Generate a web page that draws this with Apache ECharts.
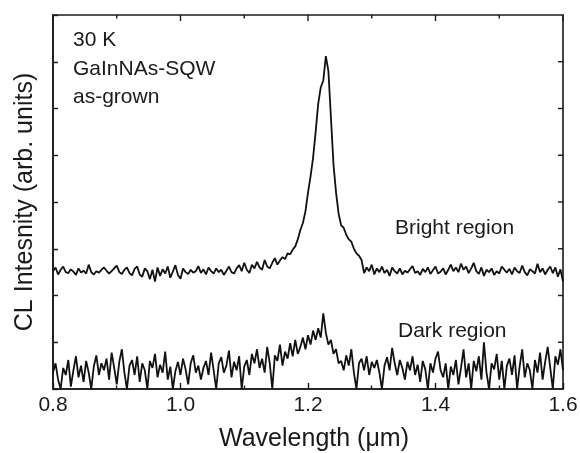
<!DOCTYPE html>
<html>
<head>
<meta charset="utf-8">
<script src="https://cdn.jsdelivr.net/npm/echarts@6/dist/echarts.min.js"></script>
<style>
html,body{margin:0;padding:0;background:#fff;}
#chart{width:580px;height:453px;}
</style>
</head>
<body>
<div id="chart"></div>
<script>
// Sampling grid for wavelength (um)
const wavelengthStart = 0.8;
const wavelengthStep = 0.004;
const xTicks = [0.8, 1.0, 1.2, 1.4, 1.6];
// Mirror ticks on the top frame: [wavelength, isMajor]
const topTicks = [[0.8, 1], [0.9, 0], [1.0, 1], [1.1, 0], [1.2, 1], [1.3, 0], [1.4, 1], [1.5, 0], [1.6, 1]];
// Mirror ticks on the right frame (intensity values)
const rightTicks = [1, 2, 3, 4, 5, 6, 7];

// Bright region CL spectrum (arb. units), one value per wavelength sample
const brightRegion = [
  2.52, 2.60, 2.45, 2.55, 2.62, 2.50, 2.48, 2.56, 2.51, 2.44,
  2.58, 2.49, 2.53, 2.47, 2.66, 2.50, 2.45, 2.52, 2.49, 2.55,
  2.60, 2.53, 2.47, 2.52, 2.58, 2.64, 2.50, 2.46, 2.55, 2.60,
  2.48, 2.43, 2.57, 2.62, 2.45, 2.40, 2.58, 2.52, 2.35, 2.55,
  2.30, 2.60, 2.42, 2.56, 2.47, 2.62, 2.38, 2.51, 2.65, 2.44,
  2.36, 2.58, 2.50, 2.46, 2.55, 2.49, 2.52, 2.63, 2.48, 2.56,
  2.45, 2.60, 2.52, 2.47, 2.58, 2.50, 2.55, 2.44, 2.53, 2.62,
  2.50, 2.47, 2.58, 2.65, 2.52, 2.70, 2.55, 2.48, 2.66, 2.58,
  2.72, 2.60, 2.55, 2.76, 2.62, 2.58, 2.70, 2.80, 2.66, 2.75,
  2.82, 2.78, 2.90, 2.88, 2.98, 3.05, 3.20, 3.40, 3.55, 3.80,
  4.20, 4.55, 4.95, 5.50, 6.10, 6.45, 6.60, 7.12, 6.80, 5.80,
  4.80, 4.20, 3.75, 3.50, 3.45, 3.30, 3.20, 3.15, 3.00, 2.90,
  2.85, 2.76, 2.48, 2.60, 2.52, 2.66, 2.45, 2.58, 2.50, 2.62,
  2.48, 2.55, 2.42, 2.60, 2.52, 2.47, 2.58, 2.45, 2.53, 2.49,
  2.56, 2.63, 2.48, 2.52, 2.44, 2.57, 2.50, 2.60, 2.46, 2.54,
  2.62, 2.47, 2.51, 2.58, 2.45, 2.55, 2.66, 2.52, 2.60, 2.50,
  2.68, 2.55, 2.62, 2.48, 2.58, 2.70, 2.52, 2.46, 2.60, 2.42,
  2.55, 2.50, 2.58, 2.44, 2.52, 2.47, 2.62, 2.55, 2.49, 2.57,
  2.45, 2.60, 2.52, 2.48, 2.64, 2.50, 2.43, 2.56, 2.52, 2.47,
  2.68, 2.50, 2.58, 2.45, 2.55, 2.62, 2.48, 2.60, 2.40, 2.56,
  2.30
];

// Dark region CL spectrum (arb. units)
const darkRegion = [
  0.35, 0.55, 0.20, 0.00, 0.45, 0.30, 0.62, 0.05, 0.40, 0.70,
  0.25, 0.50, 0.15, 0.60, 0.35, 0.00, 0.48, 0.72, 0.30, 0.55,
  0.40, 0.65, 0.20, 0.78, 0.45, 0.10, 0.58, 0.85, 0.35, 0.00,
  0.50, 0.62, 0.30, 0.70, 0.15, 0.55, 0.40, 0.00, 0.60, 0.45,
  0.75, 0.25, 0.52, 0.35, 0.80, 0.20, 0.48, 0.00, 0.38, 0.58,
  0.30, 0.65, 0.42, 0.10, 0.55, 0.72, 0.35, 0.50, 0.20, 0.45,
  0.60, 0.30, 0.78, 0.40, 0.00, 0.55, 0.68, 0.35, 0.50, 0.82,
  0.25, 0.58, 0.40, 0.70, 0.00, 0.48, 0.62, 0.30, 0.75, 0.55,
  0.85, 0.45, 0.65, 0.35, 0.90, 0.55, 0.00, 0.72, 0.60, 0.95,
  0.50, 0.80, 0.65, 0.98, 0.70, 1.05, 0.75, 0.90, 1.10, 0.85,
  1.15, 0.95, 1.25, 1.05, 1.30, 1.10, 1.62, 1.20, 0.95, 1.05,
  0.75, 0.85, 0.55, 0.60, 0.40, 0.72, 0.50, 0.85, 0.35, 0.00,
  0.55, 0.65, 0.40, 0.70, 0.30, 0.58, 0.45, 0.62, 0.35, 0.00,
  0.50, 0.68, 0.40, 0.88, 0.55, 0.30, 0.62, 0.45, 0.20, 0.58,
  0.40, 0.70, 0.30, 0.52, 0.15, 0.60, 0.42, 0.00, 0.55, 0.35,
  0.65, 0.80, 0.40, 0.25, 0.55, 0.00, 0.48, 0.30, 0.62, 0.10,
  0.45, 0.85, 0.25, 0.55, 0.00, 0.60, 0.38, 0.70, 0.20, 1.00,
  0.35, 0.00, 0.55, 0.42, 0.75, 0.20, 0.60, 0.00, 0.50, 0.65,
  0.30, 0.72, 0.00, 0.48, 0.85, 0.25, 0.55, 0.40, 0.00, 0.62,
  0.35, 0.78, 0.20, 0.58, 0.90, 0.45, 0.00, 0.70, 0.52, 0.85,
  0.40
];

const annotations = ['30 K', 'GaInNAs-SQW', 'as-grown'];
const brightLabel = 'Bright region';
const darkLabel = 'Dark region';
const xName = 'Wavelength (\u03bcm)';
const yName = 'CL Intesnity (arb. units)';

const X_MIN = 0.8, X_MAX = 1.6, Y_MIN = 0, Y_MAX = 8;

function toPairs(arr) {
  return arr.map((v, i) => [+(wavelengthStart + i * wavelengthStep).toFixed(4), v]);
}

const FONT = 'Liberation Sans, Arial, Helvetica, sans-serif';
const INK = '#1a1a1a';

function lineOpt() { return {show: true, onZero: false, lineStyle: {color: INK, width: 1.6}}; }
function tickOpt(len) { return {show: true, inside: true, length: len, lineStyle: {color: INK, width: 1.4}}; }

const chart = echarts.init(document.getElementById('chart'));

const option = {
  animation: false,
  backgroundColor: '#fff',
  grid: {
    left: 53, right: 17, top: 15, bottom: 64,
    outerBoundsMode: 'none',
    show: true, borderColor: INK, borderWidth: 1.6, backgroundColor: 'transparent'
  },
  xAxis: [
    {
      type: 'value', position: 'bottom', min: X_MIN, max: X_MAX, interval: 0.2,
      axisLine: lineOpt(), axisTick: tickOpt(6),
      minorTick: {show: true, splitNumber: 2, length: 3.5, lineStyle: {color: INK, width: 1.4}},
      splitLine: {show: false},
      axisLabel: {
        show: true, margin: 6, color: INK, fontFamily: FONT, fontSize: 21,
        formatter: v => (xTicks.some(t => Math.abs(t - v) < 1e-6) ? v.toFixed(1) : '')
      },
      name: xName, nameLocation: 'middle', nameGap: 38,
      nameTextStyle: {color: INK, fontFamily: FONT, fontSize: 25, padding: [0, 0, 0, 12]}
    }
  ],
  yAxis: [
    {
      type: 'value', position: 'left', min: Y_MIN, max: Y_MAX, interval: 1,
      axisLine: lineOpt(), axisTick: tickOpt(5),
      splitLine: {show: false},
      axisLabel: {show: false},
      name: yName, nameLocation: 'middle', nameGap: 15,
      nameTextStyle: {color: INK, fontFamily: FONT, fontSize: 25}
    }
  ],
  series: [
    {
      name: brightLabel, type: 'line', xAxisIndex: 0, yAxisIndex: 0,
      data: toPairs(brightRegion), showSymbol: false, symbol: 'none',
      lineStyle: {color: '#111', width: 1.8}, z: 3
    },
    {
      name: darkLabel, type: 'line', xAxisIndex: 0, yAxisIndex: 0,
      data: toPairs(darkRegion), showSymbol: false, symbol: 'none',
      lineStyle: {color: '#111', width: 1.8}, z: 3
    }
  ],
  graphic: [
    {type: 'text', x: 73, y: 40.6, style: {text: annotations[0], font: '21px ' + FONT, fill: INK, textVerticalAlign: 'middle'}},
    {type: 'text', x: 73, y: 69.6, style: {text: annotations[1], font: '21px ' + FONT, fill: INK, textVerticalAlign: 'middle'}},
    {type: 'text', x: 73, y: 97.6, style: {text: annotations[2], font: '21px ' + FONT, fill: INK, textVerticalAlign: 'middle'}},
    {type: 'text', x: 395, y: 228, style: {text: brightLabel, font: '21px ' + FONT, fill: INK, textVerticalAlign: 'middle'}},
    {type: 'text', x: 398, y: 331, style: {text: darkLabel, font: '21px ' + FONT, fill: INK, textVerticalAlign: 'middle'}}
  ]
};

chart.setOption(option);

// Mirror ticks on the top and right frame, placed through the chart's own scales
const frameTicks = [];
topTicks.forEach(t => {
  const p = chart.convertToPixel({gridIndex: 0}, [t[0], Y_MAX]);
  const len = t[1] ? 6 : 3.5;
  frameTicks.push({
    type: 'line', z: 100, silent: true,
    shape: {x1: p[0], y1: p[1], x2: p[0], y2: p[1] + len},
    style: {stroke: INK, lineWidth: 1.4}
  });
});
rightTicks.forEach(v => {
  const p = chart.convertToPixel({gridIndex: 0}, [X_MAX, v]);
  frameTicks.push({
    type: 'line', z: 100, silent: true,
    shape: {x1: p[0], y1: p[1], x2: p[0] - 5, y2: p[1]},
    style: {stroke: INK, lineWidth: 1.4}
  });
});
chart.setOption({graphic: option.graphic.concat(frameTicks)});
</script>
</body>
</html>
